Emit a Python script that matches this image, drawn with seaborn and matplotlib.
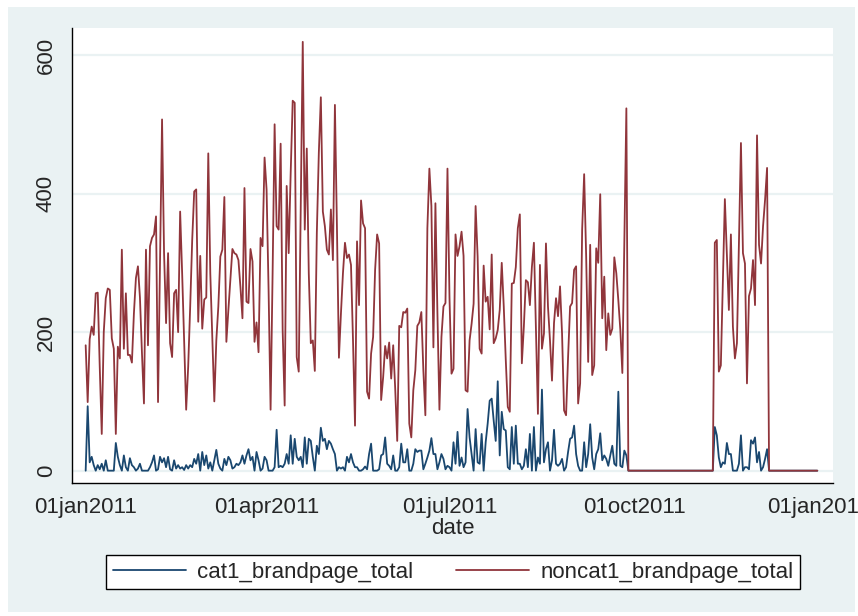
import numpy as np
import pandas as pd
import matplotlib
matplotlib.use("Agg")
import matplotlib.pyplot as plt
from matplotlib.patches import Rectangle
from matplotlib.lines import Line2D
import seaborn as sns

# ---------------- data (daily 2011) ----------------
# noncat1_brandpage_total
nc_jan_feb = [181, 99, 190, 208, 196, 256, 257, 150, 53, 200, 249, 263, 261, 191, 176,
              53, 179, 162, 319, 176, 256, 167, 167, 156, 227, 278, 295, 250, 170, 97,
              319, 181, 324, 336, 341, 367, 99, 300, 507, 314, 213, 314, 184, 164, 256]
nc_feb_mar = [261, 200, 374, 285, 184, 88, 150, 237, 333, 403, 406, 215, 310, 205, 247,
              250, 458, 285, 190, 100, 188, 237, 309, 319, 395, 186, 232, 275, 320, 314,
              312, 304, 265, 220, 408, 244, 242, 320, 302, 186, 214, 171, 336, 324, 452]
nc_apr_may = [406, 261, 88, 285, 500, 353, 348, 472, 203, 94, 411, 314, 430, 534, 531,
              164, 143, 382, 619, 348, 465, 285, 184, 188, 144, 343, 459, 539, 374, 353,
              319, 312, 377, 304, 528, 353, 163, 227, 285, 329, 307, 312, 297, 188, 65]
nc_may_jun = [331, 239, 390, 357, 350, 114, 104, 169, 193, 290, 341, 328, 102, 135, 180,
              162, 185, 133, 181, 118, 43, 209, 207, 229, 228, 234, 68, 48, 116, 145,
              209, 214, 229, 145, 80, 350, 436, 382, 178, 386, 227, 88, 193, 237, 242]
nc_jul_aug = [436, 250, 140, 147, 341, 310, 324, 345, 310, 116, 114, 188, 212, 241, 382,
              309, 176, 169, 296, 244, 251, 204, 312, 184, 191, 203, 232, 300, 237, 160,
              92, 85, 270, 271, 294, 350, 370, 155, 208, 275, 272, 239, 294, 329]
nc_aug_sep = [203, 82, 297, 176, 198, 328, 237, 188, 130, 213, 249, 223, 266, 198, 87,
              80, 164, 237, 242, 290, 295, 97, 126, 348, 428, 309, 157, 326, 138, 152,
              321, 300, 399, 220, 280, 174, 227, 196, 205, 308, 285, 246, 203, 141, 330, 523]
nc_gap = [0, 0, 0, 0, 0, 0, 0, 0, 0, 0, 0, 0, 0, 0, 0, 0, 0, 0, 0, 0, 0, 0,
          0, 0, 0, 0, 0, 0, 0, 0, 0, 0, 0, 0, 0, 0, 0, 0, 0, 0, 0, 0, 0]
nc_nov_dec = [329, 333, 143, 152, 270, 392, 310, 232, 341, 208, 162, 184, 330, 473,
              314, 299, 126, 252, 263, 304, 239, 484, 326, 299, 353, 391, 437]
nc_tail = [0, 0, 0, 0, 0, 0, 0, 0, 0, 0, 0, 0, 0, 0, 0, 0, 0, 0, 0, 0, 0, 0, 0, 0, 0]

# cat1_brandpage_total
c_jan_feb = [0, 93, 12, 20, 8, 0, 8, 2, 10, 0, 15, 0, 0, 0, 0, 40, 20, 8, 0, 22, 5, 0,
             18, 8, 5, 0, 3, 10, 0, 0, 0, 0, 5, 12, 22, 0, 2, 20, 12, 18, 5, 20, 2, 0, 15]
c_feb_mar = [3, 8, 3, 5, 1, 8, 3, 8, 5, 17, 10, 24, 0, 27, 8, 22, 3, 12, 0, 15, 30, 10,
             3, 0, 17, 8, 20, 15, 3, 5, 10, 8, 12, 22, 10, 22, 31, 15, 20, 0, 27, 15, 0, 3, 20]
c_apr_may = [15, 0, 0, 0, 5, 59, 5, 7, 5, 10, 24, 10, 51, 10, 46, 20, 15, 20, 5, 48, 10,
             46, 43, 20, 0, 36, 24, 62, 43, 46, 31, 43, 39, 31, 24, 0, 5, 3, 5, 0, 20, 12,
             24, 12, 5]
c_may_jun = [5, 0, 0, 2, 6, 2, 24, 39, 0, 0, 0, 2, 22, 24, 48, 10, 7, 2, 22, 0, 0, 5, 39,
             12, 12, 31, 0, 0, 10, 31, 27, 29, 29, 2, 10, 19, 29, 47, 24, 24, 2, 12, 24, 17, 2]
c_jul_aug = [7, 5, 0, 41, 10, 56, 7, 19, 5, 12, 89, 48, 24, 0, 60, 12, 10, 53, 0, 41, 68,
             101, 104, 72, 43, 129, 22, 85, 60, 58, 5, 2, 63, 10, 65, 10, 10, 2, 7, 31, 5]
c_aug_sep = [53, 0, 63, 0, 19, 10, 117, 12, 31, 41, 0, 15, 59, 10, 7, 10, 17, 0, 5, 27,
             46, 48, 65, 24, 7, 0, 0, 41, 5, 24, 67, 19, 2, 24, 31, 54, 15, 22, 17, 7,
             22, 36, 10, 7, 114, 7, 5, 29, 22]
c_gap = [0, 0, 0, 0, 0, 0, 0, 0, 0, 0, 0, 0, 0, 0, 0, 0, 0, 0, 0, 0, 0, 0,
         0, 0, 0, 0, 0, 0, 0, 0, 0, 0, 0, 0, 0, 0, 0, 0, 0, 0, 0, 0, 0]
c_nov_dec = [63, 51, 19, 5, 12, 10, 40, 24, 24, 0, 0, 0, 10, 51, 0, 5, 5, 2, 44, 39, 48,
             12, 27, 0, 5, 17, 31]
c_tail = [0, 0, 0, 0, 0, 0, 0, 0, 0, 0, 0, 0, 0, 0, 0, 0, 0, 0, 0, 0, 0, 0, 0, 0, 0]

series_names = ["cat1_brandpage_total", "noncat1_brandpage_total"]
x_tick_dates = ["2011-01-01", "2011-04-01", "2011-07-01", "2011-10-01", "2012-01-01"]
x_tick_labels = ["01jan2011", "01apr2011", "01jul2011", "01oct2011", "01jan2012"]
y_ticks = [0, 200, 400, 600]

cat1 = c_jan_feb + c_feb_mar + c_apr_may + c_may_jun + c_jul_aug + c_aug_sep + c_gap + c_nov_dec + c_tail
noncat1 = nc_jan_feb + nc_feb_mar + nc_apr_may + nc_may_jun + nc_jul_aug + nc_aug_sep + nc_gap + nc_nov_dec + nc_tail

dates = pd.date_range("2011-01-01", "2011-12-31", freq="D")
df = pd.DataFrame({"date": dates, series_names[0]: cat1, series_names[1]: noncat1})
long = df.melt(id_vars="date", var_name="series", value_name="value")

# ---------------- style ----------------
sns.set_style("white")
plt.rcParams["font.family"] = ["Liberation Sans", "DejaVu Sans"]

BG = "#EAF2F3"
NAVY = "#1A476F"
MAROON = "#90353B"
FS = 16

fig = plt.figure(figsize=(8.58, 6.16), dpi=100, facecolor="white")
fig.patches.append(Rectangle((8 / 858, 4 / 616), 847 / 858, 605 / 616,
                             transform=fig.transFigure, facecolor=BG,
                             edgecolor="none", zorder=-10))
ax = fig.add_axes([72 / 858, 1 - 483 / 616, (833 - 72) / 858, (483 - 28) / 616])
ax.set_facecolor("white")

sns.lineplot(data=long, x="date", y="value", hue="series",
             hue_order=series_names,
             palette={series_names[0]: NAVY, series_names[1]: MAROON},
             linewidth=1.3, estimator=None, legend=False, ax=ax)

ax.set_xlim(pd.Timestamp("2011-01-01") - pd.Timedelta(days=6.8),
            pd.Timestamp("2012-01-01") + pd.Timedelta(days=6.8))
ax.set_ylim(-17.8, 639)

ax.set_xticks([pd.Timestamp(d) for d in x_tick_dates])
ax.set_xticklabels(x_tick_labels, fontsize=FS)
ax.set_yticks(y_ticks)
ax.set_yticklabels([str(v) for v in y_ticks], fontsize=FS, rotation=90, va="center")
ax.tick_params(axis="x", direction="out", length=7, width=1, color="black", pad=3)
ax.tick_params(axis="y", direction="out", length=7, width=1, color="black", pad=4)

ax.yaxis.grid(True, color=BG, linewidth=1.6)
ax.xaxis.grid(False)
ax.set_axisbelow(True)

for s in ["top", "right"]:
    ax.spines[s].set_visible(False)
for s in ["left", "bottom"]:
    ax.spines[s].set_color("black")
    ax.spines[s].set_linewidth(1)

ax.set_xlabel("date", fontsize=FS, labelpad=0)
ax.set_ylabel("")

handles = [Line2D([], [], color=NAVY, linewidth=1.3),
           Line2D([], [], color=MAROON, linewidth=1.3)]
leg = fig.legend(handles, series_names, loc="center",
                 bbox_to_anchor=(0.528, 0.0714), ncol=2, frameon=True,
                 fancybox=False, edgecolor="black", framealpha=1,
                 fontsize=FS, handlelength=3.3, columnspacing=1.9,
                 borderpad=0.3, handletextpad=0.5)
leg.get_frame().set_linewidth(1)
leg.get_frame().set_facecolor("white")

fig.savefig("out.png", dpi=100, facecolor="white")
